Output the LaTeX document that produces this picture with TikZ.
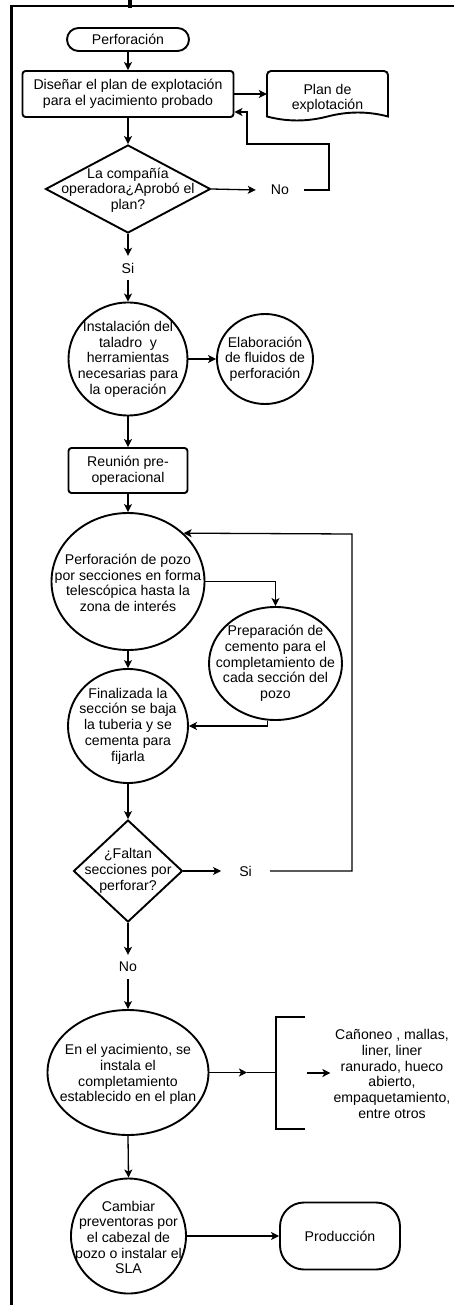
\documentclass[tikz,border=0pt]{standalone}
\usepackage{fontspec}
\setmainfont{Liberation Sans}
\usetikzlibrary{shapes.geometric,arrows.meta}
\begin{document}
\begin{tikzpicture}[x=1pt,y=-1pt,
  every node/.style={font=\fontsize{14.1}{15.7}\selectfont, text=black},
  shp/.style={draw=black, line width=1.9pt},
  proc/.style={shp, rectangle, rounded corners=3pt, inner sep=0pt, align=center},
  oval/.style={shp, ellipse, inner sep=0pt},
  decide/.style={shp, diamond, inner sep=0pt},
  term/.style={shp, rectangle, inner sep=0pt},
  txt/.style={align=center, inner sep=0pt},
  lbl/.style={inner xsep=15pt, inner ysep=0pt, minimum height=24pt},
  flow/.style={draw=black, line width=1.3pt, -{Stealth[length=8pt,width=8pt,inset=2pt]}},
  heavy/.style={draw=black, line width=1.9pt},
]
\useasboundingbox (0,0) rectangle (454,1305);

% page frame and the cut-off heading stroke
\draw[line width=2.2pt] (11.5,1305) -- (11.5,6) -- (454,6);
\fill (128,0) rectangle (132,8.5);

% main column
\node[term, rounded corners=11.5pt, minimum width=122pt, minimum height=23pt] (start) at (128,39.5) {Perforación};
\node[proc, minimum width=211pt, minimum height=46pt] (design) at (128,94) {Diseñar el plan de explotación\\para el yacimiento probado};
\node[txt, minimum width=121pt, minimum height=47pt,
      label={[txt, yshift=-4.5pt]center:Plan de\\explotación}] (plan) at (327.5,94) {};
\draw[shp] (267,116.5) [rounded corners=4pt] -- (267,71) -- (388,71) [sharp corners] -- (388,116.5)
  .. controls (368,111.2) and (348,111.2) .. (327.5,116.5)
  .. controls (307,121.8) and (287,121.8) .. (267,116.5) -- cycle;

\node[decide, minimum width=165pt, minimum height=88pt,
      label={[txt, yshift=-1pt]center:La compañía\\operadora¿Aprobó el\\plan?}] (approve) at (128,189) {};
\node[lbl] (no1) at (280,190) {No};
\node[lbl] (yes1) at (128,268) {Si};

\node[oval, minimum width=119pt, minimum height=113pt,
      label={[txt]center:Instalación del\\taladro\ \ y\\herramientas\\necesarias para\\la operación}] (inst) at (128,359) {};
\node[oval, minimum width=96pt, minimum height=90pt,
      label={[txt]center:Elaboración\\de fluidos de\\perforación}] (elab) at (265,359) {};

\node[proc, minimum width=119pt, minimum height=45pt] (meet) at (128,470.5) {Reunión pre-\\operacional};

\node[oval, minimum width=153pt, minimum height=137pt,
      label={[txt, yshift=-1.5pt]center:Perforación de pozo\\por secciones en forma\\telescópica hasta la\\zona de interés}] (perf) at (128,581.5) {};
\node[oval, minimum width=133pt, minimum height=113pt,
      label={[txt]center:Preparación de\\cemento para el\\completamiento de\\cada sección del\\pozo}] (prep) at (275.5,663.5) {};
\node[oval, minimum width=120pt, minimum height=114pt,
      label={[txt]center:Finalizada la\\sección se baja\\la tuberia y se\\cementa para\\fijarla}] (fin) at (128,726) {};

\node[decide, minimum width=109pt, minimum height=102pt,
      label={[txt]center:¿Faltan\\secciones por\\perforar?}] (more) at (128,871) {};
\node[lbl, inner xsep=18pt] (yes2) at (245.6,871) {Si};
\node[lbl] (no2) at (128,967) {No};

\node[oval, minimum width=161pt, minimum height=125pt,
      label={[txt, yshift=-2pt]center:En el yacimiento, se\\instala el\\completamiento\\establecido en el plan}] (yac) at (128,1072.5) {};
\node[txt, inner xsep=3pt] (opts) at (392,1074) {Cañoneo , mallas,\\liner, liner\\ranurado, hueco\\abierto,\\empaquetamiento,\\entre otros};

\node[oval, minimum width=115pt, minimum height=115pt,
      label={[txt, yshift=-1.5pt]center:Cambiar\\preventoras por\\el cabezal de\\pozo o instalar el\\SLA}] (camb) at (128.5,1236) {};
\node[term, rounded corners=24pt, minimum width=120pt, minimum height=67pt] (prod) at (340,1236) {Producción};

% bends and bracket points
\coordinate (ret1) at (329,144);
\coordinate (ret2) at (247,112);
\coordinate (loop) at (352,534);
\coordinate (brkin) at (247,1072.5);
\coordinate (brkmid) at (276,1072.5);
\coordinate (brktop) at (305,1017);
\coordinate (brkbot) at (305,1129);
\coordinate (brkout) at (307,1073);

% connectors
\draw[flow] (start.south) -- (design.north);
\draw[flow] (design.east) -- (plan.west);
\draw[flow] (design.south) -- (approve.north);
\draw[flow] (approve.east) -- (no1.west);
\draw[flow] (no1.east) -| (ret1) -| (ret2) -- (design.east |- ret2);
\draw[flow] (approve.south) -- (yes1.north);
\draw[flow] (yes1.south) -- (inst.north);
\draw[flow] (inst.east) -- (elab.west);
\draw[flow] (inst.south) -- (meet.north);
\draw[flow] (meet.south) -- (perf.north);
\draw[flow] (perf.east) -| (prep.north);
\draw[flow] (perf.south) -- (fin.north);
\draw[flow] (prep.262) |- (fin.east);
\draw[flow] (fin.south) -- (more.north);
\draw[flow] (more.east) -- (yes2.west);
\draw[flow] (yes2.east) -| (loop) -- (perf.41);
\draw[flow] (more.south) -- (no2.north);
\draw[flow] (no2.south) -- (yac.north);
\draw[flow] (yac.east) -- (brkin);
\draw[heavy] (brkin) -- (brkmid);
\draw[heavy] (brktop) -- (brkmid |- brktop) -- (brkmid |- brkbot) -- (brkbot);
\draw[flow] (brkout) -- (opts.west |- brkout);
\draw[flow] (yac.south) -- (camb.north);
\draw[flow] (camb.east) -- (prod.west);
\end{tikzpicture}
\end{document}
